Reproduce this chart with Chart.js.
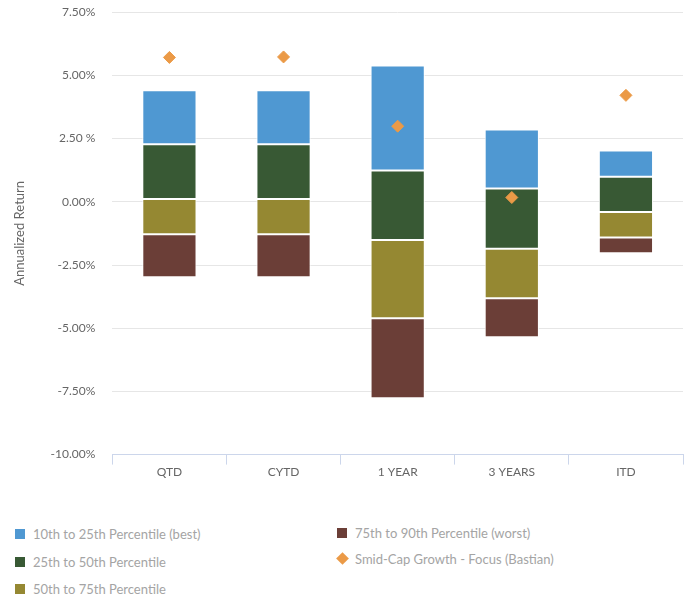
<!DOCTYPE html>
<html lang="en">
<head>
  <meta charset="UTF-8" />
  <title>Annualized Return Percentiles</title>
  <script src="https://cdn.jsdelivr.net/npm/chart.js"></script>
  <style>
    body { margin: 0; background: #fff; font-family: Lato, "Open Sans", sans-serif; overflow: hidden; }
    .wrap { position: relative; width: 690px; height: 598px; overflow: hidden; }
    .chart-box { position: absolute; left: 0; top: -12px; width: 690px; height: 491px; }
    .legend { position: absolute; font-size: 13px; color: #a4a4a4; }
    .legend .item { position: absolute; white-space: nowrap; }
    .legend .sw { position: absolute; left: 0; top: 3px; width: 10px; height: 10px; }
    .legend .sw.diamond { width: 9px; height: 9px; transform: rotate(45deg); left: 1px; top: 3px; }
    .legend .txt { position: absolute; left: 18px; top: 0; }
  </style>
</head>
<body>
  <div class="wrap">
    <div class="chart-box"><canvas id="chart"></canvas></div>
    <div class="legend" id="legend"></div>
  </div>

  <script>
    const categories = ["QTD", "CYTD", "1 YEAR", "3 YEARS", "ITD"];
    // percentile boundaries (%), per category
    const p10 = [4.41, 4.41, 5.39, 2.86, 2.03];
    const p25 = [2.28, 2.28, 1.24, 0.53, 0.99];
    const p50 = [0.11, 0.11, -1.51, -1.86, -0.40];
    const p75 = [-1.28, -1.28, -4.61, -3.82, -1.41];
    const p90 = [-2.98, -2.98, -7.77, -5.36, -2.04];
    const fund = [5.71, 5.73, 2.99, 0.17, 4.21];
    const yTickLabels = {"7.5": "7.50%", "5": "5.00%", "2.5": "2.50 %", "0": "0.00%",
      "-2.5": "-2.50%", "-5": "-5.00%", "-7.5": "-7.50%", "-10": "-10.00%"};

    const range = (hi, lo) => hi.map((v, i) => [lo[i], v]);

    const series = [
      { label: "10th to 25th Percentile (best)", data: range(p10, p25), color: "#4f98d2" },
      { label: "25th to 50th Percentile", data: range(p25, p50), color: "#385934" },
      { label: "50th to 75th Percentile", data: range(p50, p75), color: "#958832" },
      { label: "75th to 90th Percentile (worst)", data: range(p75, p90), color: "#6b3e37" }
    ];
    const fundLabel = "Smid-Cap Growth - Focus (Bastian)";
    const fundColor = "#eb9a47";

    const datasets = series.map(s => ({
      type: "bar",
      label: s.label,
      data: s.data,
      backgroundColor: s.color,
      borderColor: "#ffffff",
      borderWidth: 1,
      borderSkipped: false,
      barPercentage: 0.5,
      categoryPercentage: 0.95,
      order: 2
    }));
    datasets.push({
      type: "line",
      label: fundLabel,
      data: fund,
      showLine: false,
      pointStyle: "rectRot",
      pointRadius: 6,
      pointHoverRadius: 6,
      backgroundColor: fundColor,
      borderColor: fundColor,
      order: 1
    });

    new Chart(document.getElementById("chart"), {
      data: { labels: categories, datasets },
      options: {
        responsive: true,
        maintainAspectRatio: false,
        animation: false,
        layout: { padding: { top: 4, right: 4, left: 8, bottom: 0 } },
        plugins: { legend: { display: false }, tooltip: { enabled: false } },
        scales: {
          x: {
            stacked: true,
            grid: { display: true, offset: true, drawOnChartArea: false, drawTicks: true, tickLength: 10, color: "#ccd6eb" },
            border: { display: true, color: "#ccd6eb", width: 1 },
            ticks: { color: "#666", font: { family: "Lato", size: 12 }, padding: 0 }
          },
          y: {
            stacked: false,
            min: -10, max: 7.5,
            grid: { color: "#e6e6e6", drawTicks: false },
            border: { display: false },
            ticks: {
              stepSize: 2.5,
              color: "#666",
              font: { family: "Lato", size: 12 },
              padding: 17,
              callback: v => yTickLabels[String(v)] || ""
            },
            title: { display: true, text: "Annualized Return", color: "#666", font: { family: "Lato", size: 13 }, padding: { bottom: 6 } }
          }
        }
      }
    });

    // legend in two columns
    const legendItems = [
      { label: series[0].label, color: series[0].color, x: 15, y: 526 },
      { label: series[1].label, color: series[1].color, x: 15, y: 554 },
      { label: series[2].label, color: series[2].color, x: 15, y: 581 },
      { label: series[3].label, color: series[3].color, x: 337, y: 525 },
      { label: fundLabel, color: fundColor, x: 337, y: 551, diamond: true }
    ];
    const legend = document.getElementById("legend");
    legendItems.forEach(it => {
      const d = document.createElement("div");
      d.className = "item";
      d.style.left = it.x + "px";
      d.style.top = it.y + "px";
      d.innerHTML = `<span class="sw${it.diamond ? " diamond" : ""}" style="background:${it.color}"></span><span class="txt">${it.label}</span>`;
      legend.appendChild(d);
    });
  </script>
</body>
</html>
